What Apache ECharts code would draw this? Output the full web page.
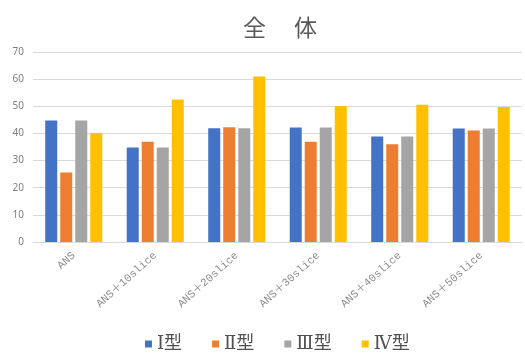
<!DOCTYPE html>
<html><head><meta charset="utf-8">
<script src="https://cdn.jsdelivr.net/npm/echarts@6/dist/echarts.min.js"></script>
<style>html,body{margin:0;padding:0;background:#fff}#c{width:525px;height:360px}</style>
</head><body><div id="c"></div>
<script>
const categories = ['ANS','ANS＋10slice','ANS＋20slice','ANS＋30slice','ANS＋40slice','ANS＋50slice'];
const seriesNames = ['Ⅰ型','Ⅱ型','Ⅲ型','Ⅳ型'];
const type1 = [44.8, 34.8, 41.9, 42.2, 38.9, 41.8];
const type2 = [25.6, 36.9, 42.3, 36.9, 36.0, 41.1];
const type3 = [44.8, 34.8, 41.9, 42.2, 38.9, 41.8];
const type4 = [40.2, 52.5, 61.0, 50.1, 50.6, 49.7];
const yTicks = [0,10,20,30,40,50,60,70];
const colors = ['#4472C4','#ED7D31','#A5A5A5','#FFC000'];
const allData = [type1,type2,type3,type4];

const chart = echarts.init(document.getElementById('c'));
chart.setOption({
  animation:false,
  color: colors,
  title:{text:'全　 体', left:275, textAlign:'center', top:11,
    textStyle:{fontFamily:'Noto Sans CJK JP', fontWeight:'normal', fontSize:23, color:'#595959'}},
  grid:{left:33, right:3, top:52, bottom:118},
  legend:{bottom:2, left:140, icon:'rect', itemWidth:7, itemHeight:7, itemGap:30,
    textStyle:{fontFamily:'DejaVu Serif, Noto Sans CJK JP', fontSize:18, color:'#505050'},
    data: seriesNames},
  xAxis:{type:'category', data:categories,
    axisLine:{lineStyle:{color:'#d9d9d9'}}, axisTick:{show:false},
    axisLabel:{rotate:42, margin:12, interval:0, color:'#8c8c8c', fontSize:11,
      fontFamily:'Liberation Mono, Noto Sans CJK JP'}},
  yAxis:{type:'value', min:yTicks[0], max:yTicks[yTicks.length-1], interval:10,
    axisLine:{show:false}, axisTick:{show:false},
    axisLabel:{color:'#7f7f7f', fontSize:10, margin:9, fontFamily:'Noto Sans'},
    splitLine:{lineStyle:{color:'#d9d9d9'}}},
  series: seriesNames.map((n,i)=>({name:n, type:'bar', data:allData[i],
    barGap:'25%', barCategoryGap:'30%'}))
});
</script></body></html>
